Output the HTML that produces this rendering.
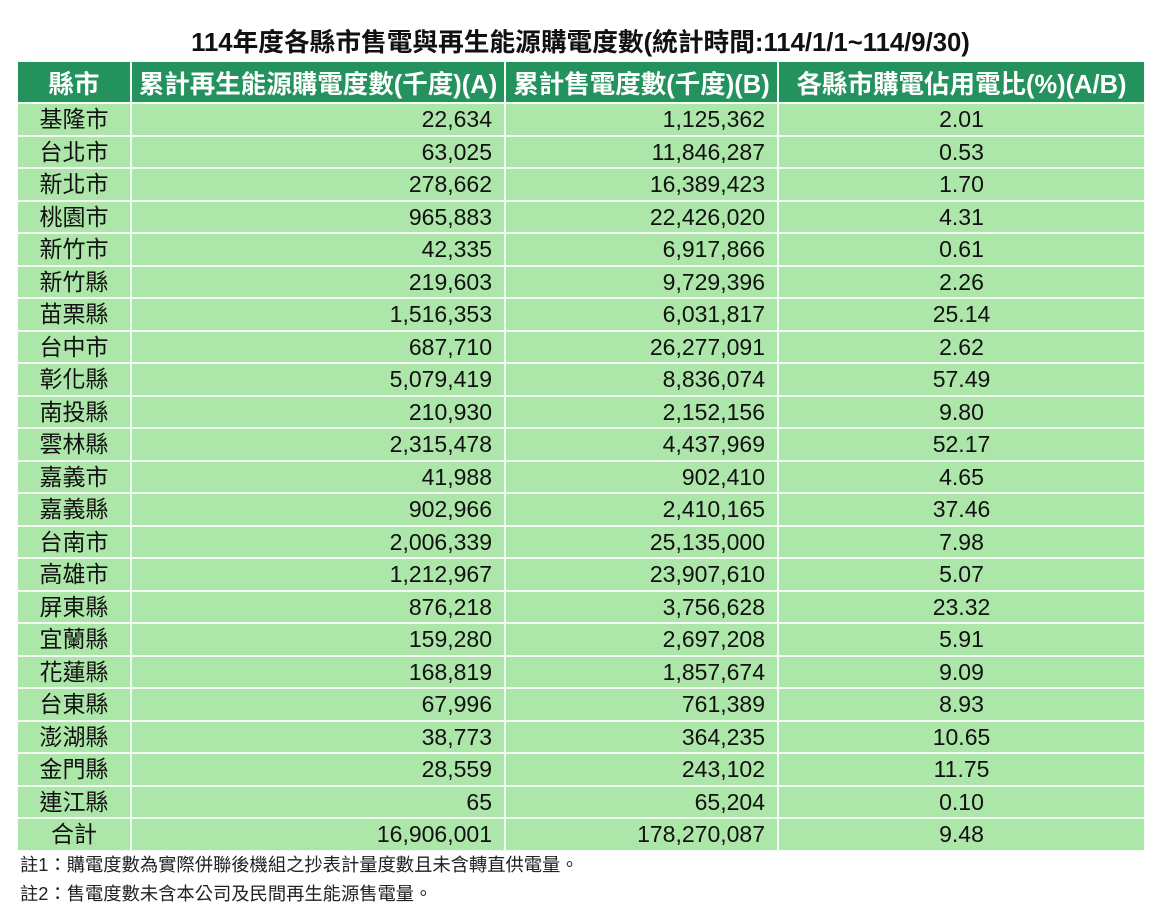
<!DOCTYPE html>
<html><head><meta charset="utf-8"><style>
body{margin:0;width:1161px;height:913px;background:#fff;font-family:"Liberation Sans","Noto Sans CJK TC",sans-serif;position:relative;overflow:hidden}
.t{position:absolute;top:22px;left:0;width:1161px;text-align:center;font-size:25.7px;font-weight:bold;color:#111}
table{position:absolute;left:17px;top:61px;border-collapse:separate;border-spacing:0;table-layout:fixed;width:1128px}
td,th{border:1px solid #f4faf4;padding:0;font-size:23px;color:#111;background:#ade6a9;white-space:nowrap;overflow:hidden}
th{background:#23925c;color:#fff;height:40px;font-size:25.5px;font-weight:bold}
td{height:30.5px;line-height:30px}
td.c{text-align:center}
td.r{text-align:right;padding-right:12px}
.n{position:absolute;left:20px;font-size:18.3px;color:#222}
</style></head><body>
<div class="t">114年度各縣市售電與再生能源購電度數(統計時間:114/1/1~114/9/30)</div>
<table>
<colgroup><col style="width:114px"><col style="width:374px"><col style="width:273px"><col style="width:367px"></colgroup>
<tr><th>縣市</th><th>累計再生能源購電度數(千度)(A)</th><th>累計售電度數(千度)(B)</th><th>各縣市購電佔用電比(%)(A/B)</th></tr>
<tr><td class="c">基隆市</td><td class="r">22,634</td><td class="r">1,125,362</td><td class="c">2.01</td></tr>
<tr><td class="c">台北市</td><td class="r">63,025</td><td class="r">11,846,287</td><td class="c">0.53</td></tr>
<tr><td class="c">新北市</td><td class="r">278,662</td><td class="r">16,389,423</td><td class="c">1.70</td></tr>
<tr><td class="c">桃園市</td><td class="r">965,883</td><td class="r">22,426,020</td><td class="c">4.31</td></tr>
<tr><td class="c">新竹市</td><td class="r">42,335</td><td class="r">6,917,866</td><td class="c">0.61</td></tr>
<tr><td class="c">新竹縣</td><td class="r">219,603</td><td class="r">9,729,396</td><td class="c">2.26</td></tr>
<tr><td class="c">苗栗縣</td><td class="r">1,516,353</td><td class="r">6,031,817</td><td class="c">25.14</td></tr>
<tr><td class="c">台中市</td><td class="r">687,710</td><td class="r">26,277,091</td><td class="c">2.62</td></tr>
<tr><td class="c">彰化縣</td><td class="r">5,079,419</td><td class="r">8,836,074</td><td class="c">57.49</td></tr>
<tr><td class="c">南投縣</td><td class="r">210,930</td><td class="r">2,152,156</td><td class="c">9.80</td></tr>
<tr><td class="c">雲林縣</td><td class="r">2,315,478</td><td class="r">4,437,969</td><td class="c">52.17</td></tr>
<tr><td class="c">嘉義市</td><td class="r">41,988</td><td class="r">902,410</td><td class="c">4.65</td></tr>
<tr><td class="c">嘉義縣</td><td class="r">902,966</td><td class="r">2,410,165</td><td class="c">37.46</td></tr>
<tr><td class="c">台南市</td><td class="r">2,006,339</td><td class="r">25,135,000</td><td class="c">7.98</td></tr>
<tr><td class="c">高雄市</td><td class="r">1,212,967</td><td class="r">23,907,610</td><td class="c">5.07</td></tr>
<tr><td class="c">屏東縣</td><td class="r">876,218</td><td class="r">3,756,628</td><td class="c">23.32</td></tr>
<tr><td class="c">宜蘭縣</td><td class="r">159,280</td><td class="r">2,697,208</td><td class="c">5.91</td></tr>
<tr><td class="c">花蓮縣</td><td class="r">168,819</td><td class="r">1,857,674</td><td class="c">9.09</td></tr>
<tr><td class="c">台東縣</td><td class="r">67,996</td><td class="r">761,389</td><td class="c">8.93</td></tr>
<tr><td class="c">澎湖縣</td><td class="r">38,773</td><td class="r">364,235</td><td class="c">10.65</td></tr>
<tr><td class="c">金門縣</td><td class="r">28,559</td><td class="r">243,102</td><td class="c">11.75</td></tr>
<tr><td class="c">連江縣</td><td class="r">65</td><td class="r">65,204</td><td class="c">0.10</td></tr>
<tr><td class="c">合計</td><td class="r">16,906,001</td><td class="r">178,270,087</td><td class="c">9.48</td></tr>
</table>
<div class="n" style="top:851px">註1：購電度數為實際併聯後機組之抄表計量度數且未含轉直供電量。</div>
<div class="n" style="top:880px">註2：售電度數未含本公司及民間再生能源售電量。</div>
</body></html>
